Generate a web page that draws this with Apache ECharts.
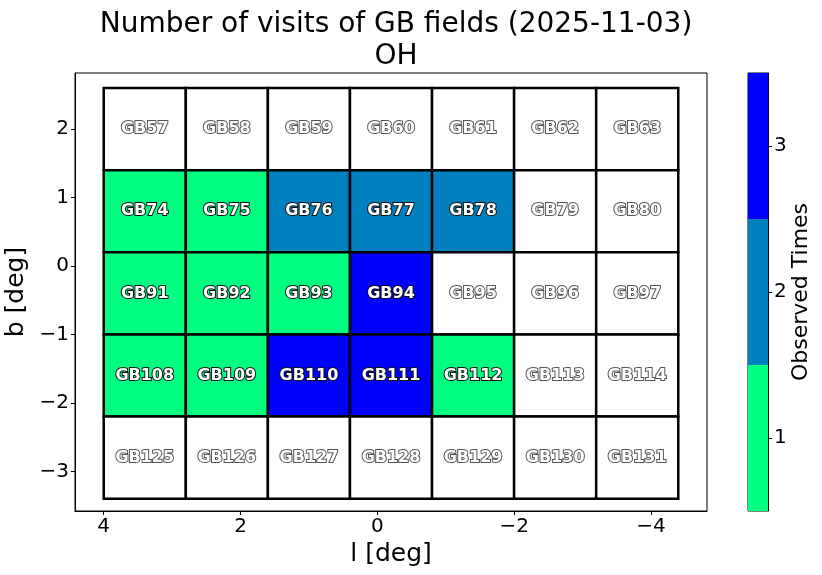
<!DOCTYPE html>
<html>
<head>
<meta charset="utf-8">
<script src="https://cdn.jsdelivr.net/npm/echarts@6/dist/echarts.min.js"></script>
<style>html,body{margin:0;padding:0;background:#fff}#chart{width:822px;height:575px}</style>
</head>
<body>
<div id="chart"></div>
<script>
// ---- data ----
const lValues = [3.4, 2.2, 1.0, -0.2, -1.4, -2.6, -3.8];   // cell centres, l [deg]
const bValues = [2.0, 0.8, -0.4, -1.6, -2.8];              // cell centres, b [deg]
const fieldNames = [
  ['GB57', 'GB58', 'GB59', 'GB60', 'GB61', 'GB62', 'GB63'],
  ['GB74', 'GB75', 'GB76', 'GB77', 'GB78', 'GB79', 'GB80'],
  ['GB91', 'GB92', 'GB93', 'GB94', 'GB95', 'GB96', 'GB97'],
  ['GB108', 'GB109', 'GB110', 'GB111', 'GB112', 'GB113', 'GB114'],
  ['GB125', 'GB126', 'GB127', 'GB128', 'GB129', 'GB130', 'GB131']
];
const visits = [
  [0, 0, 0, 0, 0, 0, 0],
  [1, 1, 2, 2, 2, 0, 0],
  [1, 1, 1, 3, 0, 0, 0],
  [1, 1, 3, 3, 1, 0, 0],
  [0, 0, 0, 0, 0, 0, 0]
];
const xTicks = [4, 2, 0, -2, -4];
const yTicks = [-3, -2, -1, 0, 1, 2];
const cbLevels = [1, 2, 3];
const cbColors = ['#00ff80', '#0080bf', '#0000ff'];

// ---- build ----
const CELL = 1.2;
const cellData = [];
bValues.forEach((b, r) => lValues.forEach((l, c) => {
  cellData.push([l, b, visits[r][c], fieldNames[r][c]]);
}));
const colorOf = v => v === 0 ? '#ffffff' : cbColors[cbLevels.indexOf(v)];
const FONT = "'DejaVu Sans', sans-serif";
const minus = v => String(v).replace('-', '\u2212');

const chart = echarts.init(document.getElementById('chart'), null, {renderer: 'canvas'});
chart.setOption({
  animation: false,
  backgroundColor: '#fff',
  textStyle: {fontFamily: FONT},
  title: {
    text: 'Number of visits of GB fields (2025-11-03)\nOH',
    left: 391, top: 4, textAlign: 'center',
    textStyle: {fontFamily: FONT, fontSize: 28, fontWeight: 'normal', color: '#000', lineHeight: 32}
  },
  grid: [
    {left: 75, top: 73, width: 632, height: 438, show: true, borderColor: '#000', borderWidth: 1,
     backgroundColor: 'transparent', outerBoundsMode: 'none', containLabel: false},
    {left: 748, top: 73, width: 20, height: 438, show: true, borderColor: '#000', borderWidth: 1,
     outerBoundsMode: 'none', containLabel: false}
  ],
  xAxis: [
    {
      type: 'value', gridIndex: 0, min: -4.82, max: 4.42, inverse: true,
      splitLine: {show: false},
      axisLine: {show: true, onZero: false, lineStyle: {color: '#000', width: 1}},
      axisTick: {show: true, inside: false, length: 4, customValues: xTicks, lineStyle: {color: '#000'}},
      axisLabel: {customValues: xTicks, fontSize: 20, color: '#000', margin: 6, formatter: minus, fontFamily: FONT},
      name: 'l [deg]', nameLocation: 'middle', nameGap: 28,
      nameTextStyle: {fontSize: 25, color: '#000', fontFamily: FONT}
    },
    {type: 'value', gridIndex: 1, min: 0, max: 1, show: false}
  ],
  yAxis: [
    {
      type: 'value', gridIndex: 0, min: -3.58, max: 2.82,
      splitLine: {show: false},
      axisLine: {show: true, onZero: false, lineStyle: {color: '#000', width: 1}},
      axisTick: {show: true, inside: false, length: 4, customValues: yTicks, lineStyle: {color: '#000'}},
      axisLabel: {customValues: yTicks, fontSize: 20, color: '#000', margin: 6, formatter: minus, fontFamily: FONT},
      name: 'b [deg]', nameLocation: 'middle', nameGap: 42, nameRotate: 90,
      nameTextStyle: {fontSize: 25, color: '#000', fontFamily: FONT}
    },
    {
      type: 'value', gridIndex: 1, min: 0.5, max: 3.5, position: 'right',
      splitLine: {show: false},
      axisLine: {show: true, onZero: false, lineStyle: {color: '#000', width: 1}},
      axisTick: {show: true, inside: false, length: 4, customValues: cbLevels, lineStyle: {color: '#000'}},
      axisLabel: {customValues: cbLevels, fontSize: 20, color: '#000', margin: 6, fontFamily: FONT},
      name: 'Observed Times', nameLocation: 'middle', nameGap: 22, nameRotate: 90,
      nameTextStyle: {fontSize: 22, color: '#000', fontFamily: FONT}
    }
  ],
  series: [
    {
      type: 'custom', xAxisIndex: 0, yAxisIndex: 0, data: cellData, clip: false,
      renderItem: (params, api) => {
        const l = api.value(0), b = api.value(1), v = api.value(2);
        const name = cellData[params.dataIndex][3];
        const p1 = api.coord([l + CELL / 2, b + CELL / 2]);
        const p2 = api.coord([l - CELL / 2, b - CELL / 2]);
        const c = api.coord([l, b]);
        const x = Math.min(p1[0], p2[0]), y = Math.min(p1[1], p2[1]);
        const w = Math.abs(p2[0] - p1[0]), h = Math.abs(p2[1] - p1[1]);
        return {
          type: 'group',
          children: [
            {type: 'rect', shape: {x, y, width: w, height: h},
             style: {fill: colorOf(v), stroke: '#000', lineWidth: 2.5}},
            {type: 'text', z2: 10,
             style: {text: name, x: c[0], y: c[1], align: 'center', verticalAlign: 'middle',
                     font: "bold 16px 'DejaVu Sans'", fill: '#fff',
                     stroke: v === 0 ? '#555555' : '#111111', lineWidth: 2, strokeFirst: true}}
          ]
        };
      }
    },
    {
      type: 'custom', xAxisIndex: 1, yAxisIndex: 1, data: cbLevels,
      renderItem: (params, api) => {
        const v = api.value(0);
        const p1 = api.coord([0, v + 0.5]);
        const p2 = api.coord([1, v - 0.5]);
        return {type: 'rect', shape: {x: p1[0], y: p1[1], width: p2[0] - p1[0], height: p2[1] - p1[1]},
                style: {fill: cbColors[params.dataIndex], stroke: null}};
      }
    }
  ]
});
</script>
</body>
</html>
